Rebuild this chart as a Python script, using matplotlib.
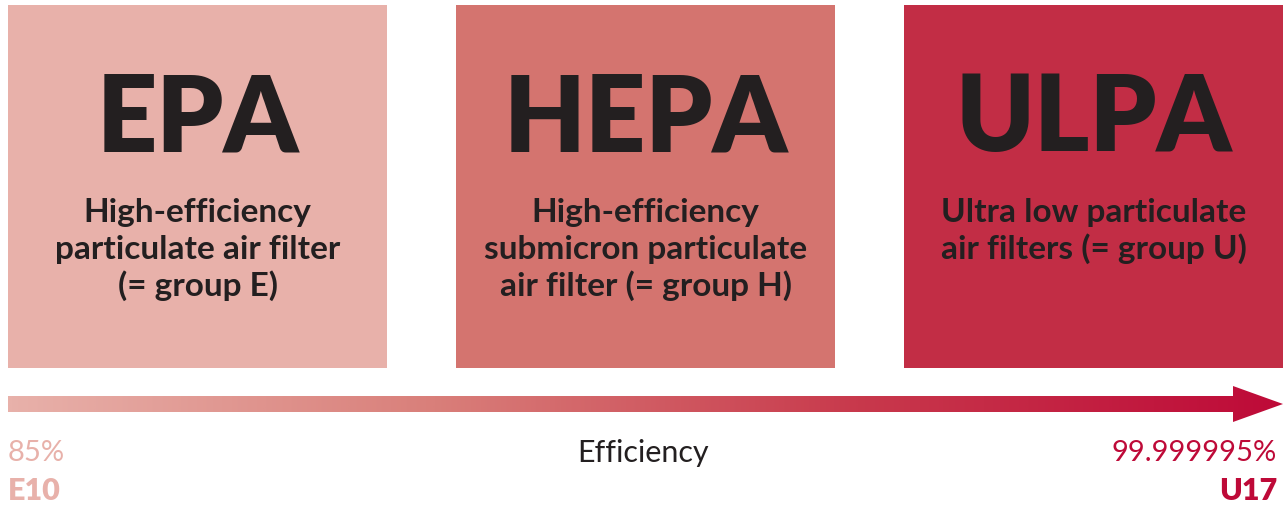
import numpy as np
import matplotlib
matplotlib.use("Agg")
import matplotlib.pyplot as plt
from matplotlib.colors import LinearSegmentedColormap
from matplotlib.patches import Polygon

# data
classes = ["EPA", "HEPA", "ULPA"]
descriptions = [
    ["High-efficiency", "particulate air filter", "(= group E)"],
    ["High-efficiency", "submicron particulate", "air filter (= group H)"],
    ["Ultra low particulate", "air filters (= group U)"],
]
box_colors = ["#E8B1AA", "#D4746F", "#C22D45"]
low_value, low_class = "85%", "E10"
high_value, high_class = "99.999995%", "U17"
axis_label = "Efficiency"

dark = "#231F20"
low_col = "#E8B1AA"
high_col = "#BE0A38"
plt.rcParams['font.family'] = ['Lato', 'DejaVu Sans']

fig = plt.figure(figsize=(12.83, 5.06), dpi=100)
ax = fig.add_axes([0, 0, 1, 1])
ax.set_xlim(0, 1283)
ax.set_ylim(506, 0)
ax.axis("off")

# boxes
box_w, step = 379, 448
lefts = [8 + i * step for i in range(len(classes))]
ax.bar(lefts, 363, width=box_w, bottom=6, align="edge", color=box_colors)

for x0, name, desc in zip(lefts, classes, descriptions):
    cx = x0 + box_w / 2
    ax.text(cx, 151, name, ha="center", va="baseline", fontsize=76,
            fontweight="heavy", color=dark)
    for k, line in enumerate(desc):
        ax.text(cx, 222 + 37 * k, line, ha="center", va="baseline",
                fontsize=24, fontweight="bold", color=dark)

# gradient arrow
arrow = Polygon([(8, 397), (1233, 397), (1233, 387), (1283, 405),
                 (1233, 423), (1233, 413), (8, 413)], closed=True,
                facecolor="none", edgecolor="none")
ax.add_patch(arrow)
cmap = LinearSegmentedColormap.from_list("eff", [low_col, "#D97F7A", "#C8394C", high_col])
grad = np.linspace(0, 1, 512).reshape(1, -1)
im = ax.imshow(grad, cmap=cmap, extent=[8, 1283, 423, 387], aspect="auto")
im.set_clip_path(arrow)
ax.set_xlim(0, 1283)
ax.set_ylim(506, 0)

# labels
ax.text(643, 453, axis_label, ha="center", va="center", fontsize=22, color=dark)
ax.text(8, 453, low_value, ha="left", va="center", fontsize=21, color=low_col)
ax.text(8, 491, low_class, ha="left", va="center", fontsize=22,
        fontweight="heavy", color=low_col)
ax.text(1277, 453, high_value, ha="right", va="center", fontsize=21, color=high_col)
ax.text(1277, 491, high_class, ha="right", va="center", fontsize=22,
        fontweight="heavy", color=high_col)

fig.savefig("out.png", dpi=100)
